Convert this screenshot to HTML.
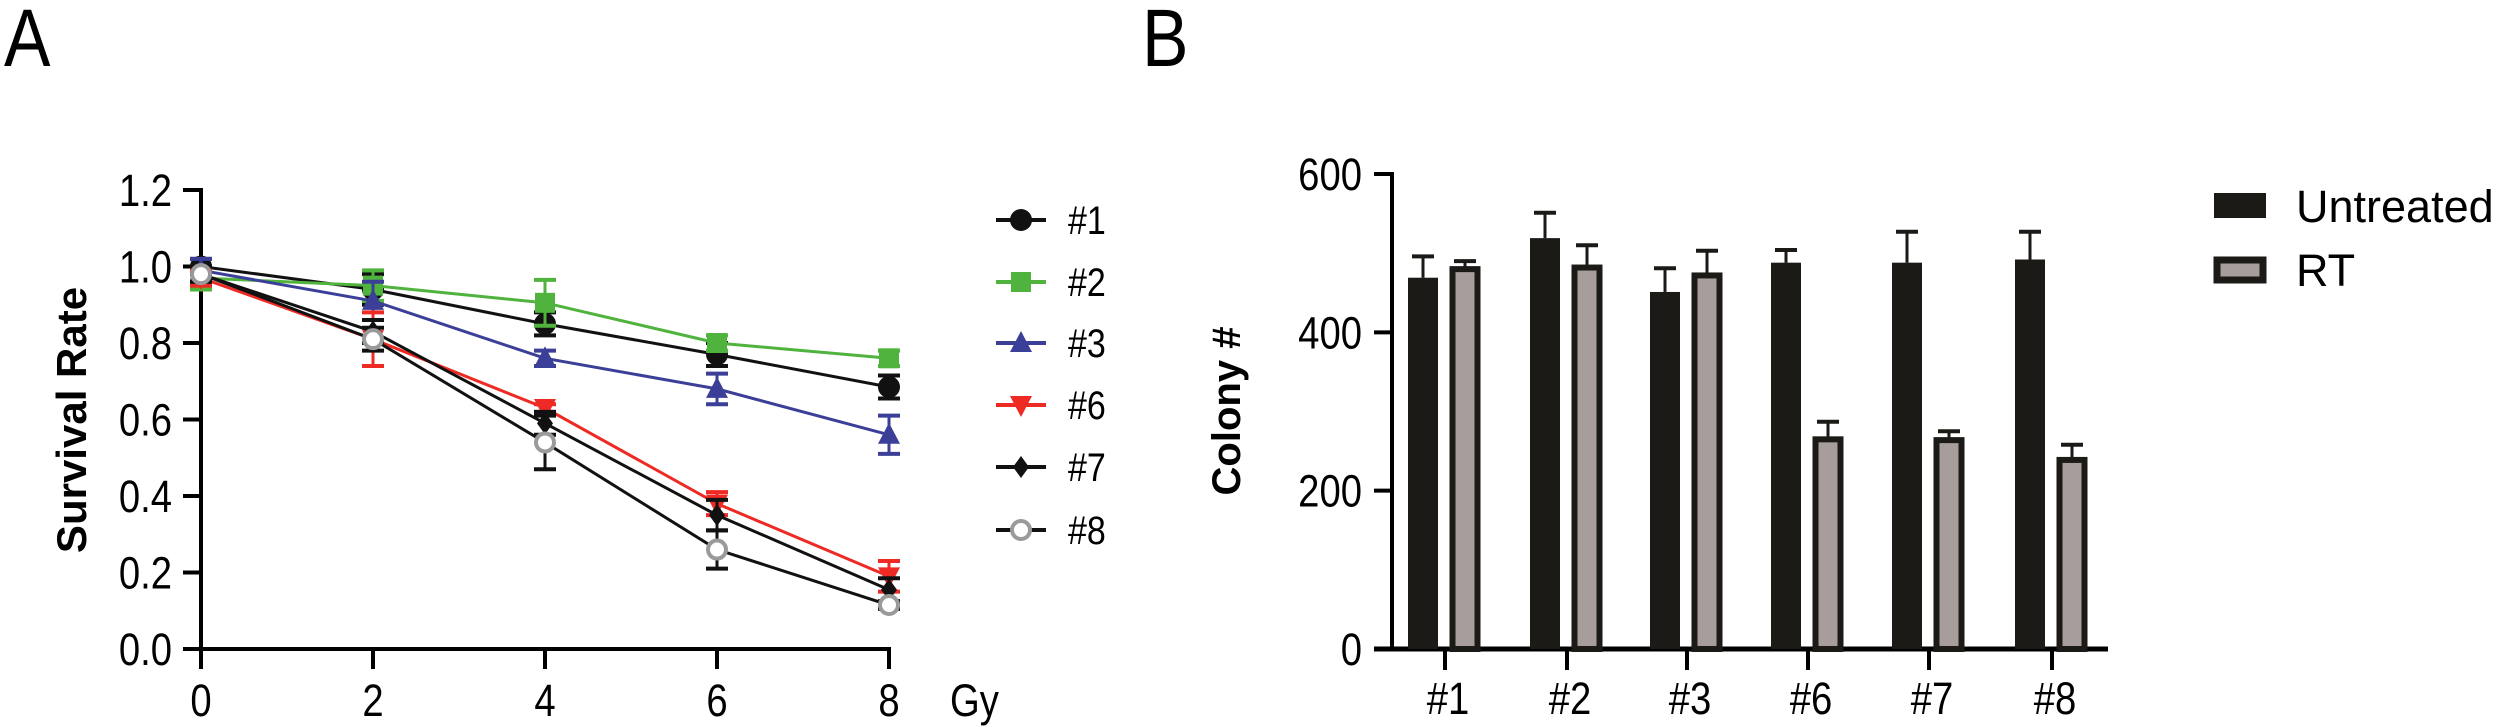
<!DOCTYPE html>
<html><head><meta charset="utf-8"><style>
html,body{margin:0;padding:0;background:#fff;}
svg{display:block;font-family:"Liberation Sans",Arial,sans-serif;}
</style></head><body>
<svg id="fig" width="2500" height="727" viewBox="0 0 2500 727" xmlns="http://www.w3.org/2000/svg">
<text x="4" y="66" font-size="82" transform="translate(4,0) scale(0.85,1) translate(-4,0)">A</text>
<text x="1142" y="66" font-size="82" transform="translate(1142,0) scale(0.85,1) translate(-1142,0)">B</text>
<g id="chartA"></g>
<g id="chartB"></g>
</svg>
<script>
// ---- Panel A data ----
const doses = [0, 2, 4, 6, 8];
const seriesNames = ["#1", "#2", "#3", "#6", "#7", "#8"];
const s1 = [1.00, 0.94, 0.85, 0.77, 0.685];
const s2 = [0.97, 0.95, 0.905, 0.80, 0.76];
const s3 = [0.99, 0.91, 0.76, 0.68, 0.56];
const s6 = [0.97, 0.81, 0.63, 0.38, 0.19];
const s7 = [0.98, 0.83, 0.59, 0.35, 0.155];
const s8 = [0.98, 0.81, 0.54, 0.26, 0.115];
const e1 = [0.02, 0.04, 0.03, 0.03, 0.03];
const e2 = [0.03, 0.04, 0.06, 0.02, 0.02];
const e3 = [0.03, 0.05, 0.02, 0.04, 0.05];
const e6 = [0.02, 0.07, 0.01, 0.03, 0.04];
const e7 = [0.02, 0.03, 0.03, 0.04, 0.03];
const e8 = [0.02, 0.03, 0.07, 0.05, 0.01];
const yTicksA = ["0.0", "0.2", "0.4", "0.6", "0.8", "1.0", "1.2"];
const xTicksA = ["0", "2", "4", "6", "8"];
// ---- Panel B data ----
const lines = ["#1", "#2", "#3", "#6", "#7", "#8"];
const untreated = [469, 519, 451, 488, 488, 492];
const untreatedErr = [27, 32, 30, 16, 39, 35];
const rt = [483, 485, 475, 268, 267, 242];
const rtErr = [7, 25, 28, 19, 8, 16];
const yTicksB = [0, 200, 400, 600];

const NS = "http://www.w3.org/2000/svg";
function mk(parent, tag, attrs){const e=document.createElementNS(NS,tag);for(const k in attrs)e.setAttribute(k,attrs[k]);parent.appendChild(e);return e;}
function txt(parent,x,y,s,size,anchor,extra){const t=mk(parent,"text",{x:0,y:0,"font-size":size,"text-anchor":anchor||"start",transform:`translate(${x},${y}) scale(0.85,1)`});if(extra)for(const k in extra)t.setAttribute(k,extra[k]);t.textContent=s;return t;}

// ===== Panel A =====
const A = document.getElementById("chartA");
const ax0=201, ax1=889, ay0=649, ay1=190;
const xA = v => ax0 + (v-0)/8*(ax1-ax0);
const yA = v => ay0 - v/1.2*(ay0-ay1);
const axA = mk(A,"g",{});


mk(axA,"line",{x1:ax0,y1:ay1-2,x2:ax0,y2:ay0+2,stroke:"#000","stroke-width":4});
mk(axA,"line",{x1:ax0-18,y1:ay0,x2:ax1+2,y2:ay0,stroke:"#000","stroke-width":4});
yTicksA.forEach(t=>{const v=parseFloat(t);const y=yA(v);
  mk(axA,"line",{x1:ax0-18,y1:y,x2:ax0,y2:y,stroke:"#000","stroke-width":4});
  const l=txt(axA,172,y+16,t,45,"end");
  
  
});
xTicksA.forEach(t=>{const x=xA(parseFloat(t));
  mk(axA,"line",{x1:x,y1:ay0,x2:x,y2:ay0+20,stroke:"#000","stroke-width":4});
  const l=txt(axA,x,716,t,45,"middle");
  
  
});
const gy=txt(axA,950,716,"Gy",45,"start");


const yt=mk(axA,"text",{x:0,y:0,"font-size":42,"font-weight":"bold","text-anchor":"middle",transform:"translate(86,420) rotate(-90)"});
yt.textContent="Survival Rate";



const seriesVals=[s1,s2,s3,s6,s7,s8];
const seriesErr=[e1,e2,e3,e6,e7,e8];
const colors=["#111","#4fb33e","#3b3f98","#ee2a24","#111","#9a9a9a"];
const lineColors=["#111","#4fb33e","#3b3f98","#ee2a24","#111","#111"];
const markers=["circle","square","tri","tridown","diamond","open"];
function marker(g,type,x,y,c){
  if(type==="circle") mk(g,"circle",{cx:x,cy:y,r:11,fill:c});
  else if(type==="square") mk(g,"rect",{x:x-10,y:y-10,width:20,height:20,fill:c});
  else if(type==="tri") mk(g,"polygon",{points:`${x},${y-12} ${x+11},${y+9} ${x-11},${y+9}`,fill:c});
  else if(type==="tridown") mk(g,"polygon",{points:`${x},${y+12} ${x+11},${y-9} ${x-11},${y-9}`,fill:c});
  else if(type==="diamond") mk(g,"polygon",{points:`${x},${y-11} ${x+8},${y} ${x},${y+11} ${x-8},${y}`,fill:c});
  else mk(g,"circle",{cx:x,cy:y,r:9,fill:"#fff",stroke:c,"stroke-width":4});
}
seriesVals.forEach((vals,i)=>{
  const g=mk(A,"g",{});
  
  
  const c=colors[i];
  mk(g,"polyline",{points:vals.map((v,j)=>xA(doses[j])+","+yA(v)).join(" "),fill:"none",stroke:lineColors[i],"stroke-width":3});
  vals.forEach((v,j)=>{const x=xA(doses[j]);const e=seriesErr[i][j];
    mk(g,"line",{x1:x,y1:yA(v+e),x2:x,y2:yA(v-e),stroke:lineColors[i],"stroke-width":3});
    mk(g,"line",{x1:x-11,y1:yA(v+e),x2:x+11,y2:yA(v+e),stroke:lineColors[i],"stroke-width":4});
    mk(g,"line",{x1:x-11,y1:yA(v-e),x2:x+11,y2:yA(v-e),stroke:lineColors[i],"stroke-width":4});
    marker(g,markers[i],x,yA(v),c);
  });
});
// legend A
const legY=[220,282,343,405,467,530];
seriesNames.forEach((n,i)=>{
  const g=mk(A,"g",{});
  
  
  mk(g,"line",{x1:996,y1:legY[i],x2:1046,y2:legY[i],stroke:lineColors[i],"stroke-width":4});
  marker(g,markers[i],1021,legY[i],colors[i]);
  txt(g,1068,legY[i]+14,n,40,"start");
});

// ===== Panel B =====
const B=document.getElementById("chartB");
const bx0=1392, bx1=2108, by0=649, by1=174;
const yB=v=>by0 - v/600*(by0-by1);
const groupX=[1445,1567,1687,1808,1929,2052];
const axB=mk(B,"g",{});


mk(axB,"line",{x1:bx0,y1:by1-2,x2:bx0,y2:by0+2,stroke:"#000","stroke-width":4});
mk(axB,"line",{x1:bx0-18,y1:by0,x2:bx1,y2:by0,stroke:"#000","stroke-width":5});
yTicksB.forEach(t=>{const y=yB(t);
  mk(axB,"line",{x1:bx0-18,y1:y,x2:bx0,y2:y,stroke:"#000","stroke-width":4});
  const l=txt(axB,1362,y+16,String(t),45,"end");
  
  
});
lines.forEach((n,i)=>{const x=groupX[i];
  mk(axB,"line",{x1:x,y1:by0,x2:x,y2:by0+21,stroke:"#000","stroke-width":4});
  const l=txt(axB,x+3,714,n,45,"middle");
  
  
});
const ytB=mk(axB,"text",{x:0,y:0,"font-size":40,"font-weight":"bold","text-anchor":"middle",transform:"translate(1240,411) rotate(-90)"});
ytB.textContent="Colony #";


const bw=30;
lines.forEach((n,i)=>{
  const cx=groupX[i]-22, top=yB(untreated[i]);
  const b=mk(B,"rect",{x:cx-bw/2,y:top,width:bw,height:by0-top,fill:"#1b1a17"});
  
  
  const et=yB(untreated[i]+untreatedErr[i]);
  mk(B,"line",{x1:cx,y1:top,x2:cx,y2:et,stroke:"#1b1a17","stroke-width":3});
  mk(B,"line",{x1:cx-11,y1:et,x2:cx+11,y2:et,stroke:"#1b1a17","stroke-width":4});
  const rx=groupX[i]+20, rtop=yB(rt[i]);
  const r=mk(B,"rect",{x:rx-bw/2+2.5,y:rtop+2.5,width:bw-5,height:by0-rtop-2.5,fill:"#a79e9b",stroke:"#1b1a17","stroke-width":6});
  
  
  const ret=yB(rt[i]+rtErr[i]);
  mk(B,"line",{x1:rx,y1:rtop,x2:rx,y2:ret,stroke:"#1b1a17","stroke-width":3});
  mk(B,"line",{x1:rx-11,y1:ret,x2:rx+11,y2:ret,stroke:"#1b1a17","stroke-width":4});
});
// legend B
const lg1=mk(B,"g",{});


mk(lg1,"rect",{x:2214,y:193,width:52,height:25,fill:"#1b1a17"});
txt(lg1,2296,222,"Untreated",45,"start",{transform:"translate(2296,222)"});
const lg2=mk(B,"g",{});


mk(lg2,"rect",{x:2217,y:260,width:46,height:20,fill:"#a79e9b",stroke:"#1b1a17","stroke-width":7});
txt(lg2,2296,286,"RT",45,"start",{transform:"translate(2296,286)"});
</script>
</body></html>
